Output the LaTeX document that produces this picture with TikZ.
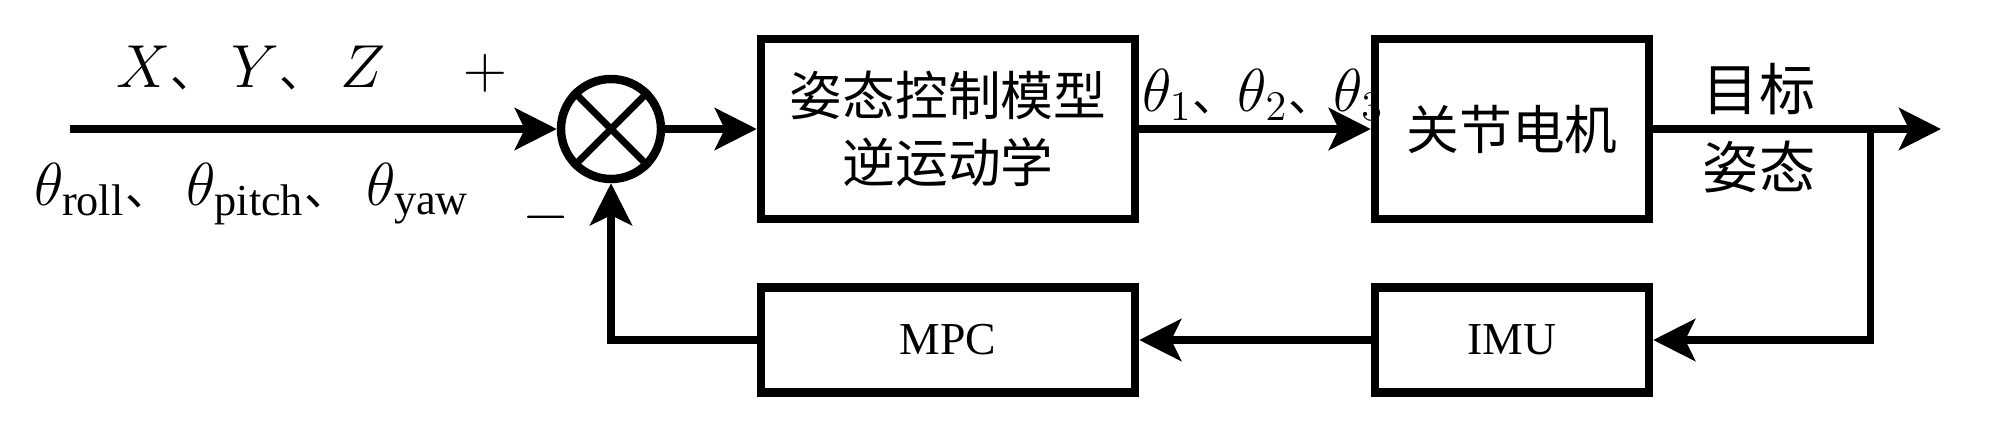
\documentclass[tikz,border=0pt]{standalone}
\usepackage{fontspec}
\setmainfont{Liberation Serif}
\newfontfamily\cjk{Noto Sans CJK SC}
\usetikzlibrary{arrows.meta, positioning, calc}

\newcommand{\dun}{{\cjk\fontsize{13}{13}\selectfont 、}}

\begin{document}
\begin{tikzpicture}[
  line width=2pt,
  block/.style={draw, line width=2.4pt, minimum width=3.74cm, minimum height=1.8cm,
    align=center, font=\cjk\fontsize{15}{19}\selectfont},
  fbblock/.style={draw, line width=2.4pt, minimum width=3.74cm, minimum height=1.05cm,
    font=\fontsize{13}{15}\selectfont},
  sig/.style={-{Stealth[length=4.2mm,width=4.2mm,inset=1mm]}},
  lbl/.style={font=\fontsize{18}{21}\selectfont, inner sep=0pt}
]
  \useasboundingbox (0,0) rectangle (20,4.35);

  % Forward path
  \coordinate (in) at (0.70,3.06);
  \node[circle, draw, line width=2.4pt, minimum size=1.0cm, inner sep=0pt] (sum) at (6.11,3.06) {};
  \draw (sum.north west) -- (sum.south east);
  \draw (sum.north east) -- (sum.south west);
  \node[block] (ik) at (9.48,3.06) {姿态控制模型\\逆运动学};
  \node[block, minimum width=2.74cm] (motor) at (15.12,3.06) {关节电机};
  \coordinate (tap) at (18.70,3.06);
  \coordinate (out) at (19.41,3.06);

  % Feedback path
  \node[fbblock, minimum width=2.74cm] (imu) at (15.12,0.95) {IMU};
  \node[fbblock] (mpc) at (9.48,0.95) {MPC};

  % Connectors
  \draw[sig] (in) -- (sum);
  \draw[sig] (sum) -- (ik);
  \draw[sig] (ik) -- (motor);
  \draw[sig] (motor) -- (out);
  \draw[sig] (tap) |- (imu);
  \draw[sig] (imu) -- (mpc);
  \draw[sig] (mpc) -| (sum);

  % Labels
  \node[lbl] (xyz) at (2.51,3.67) {$X$\dun\ $Y$\dun\ $Z$};
  \node[lbl] (plus) at (4.85,3.62) {$+$};
  \node[lbl] (angles) at (2.52,2.41)
    {$\theta_{\mathrm{roll}}$\dun\ $\theta_{\mathrm{pitch}}$\dun\ $\theta_{\mathrm{yaw}}$};
  \node[lbl] (minus) at (5.46,2.18) {$-$};
  \node[lbl] (joints) at (12.63,3.40) {$\theta_1$\dun$\theta_2$\dun$\theta_3$};
  \node[lbl, align=center, font=\cjk\fontsize{16}{22}\selectfont] (goal) at (17.59,3.07) {目标\\姿态};

\end{tikzpicture}
\end{document}
